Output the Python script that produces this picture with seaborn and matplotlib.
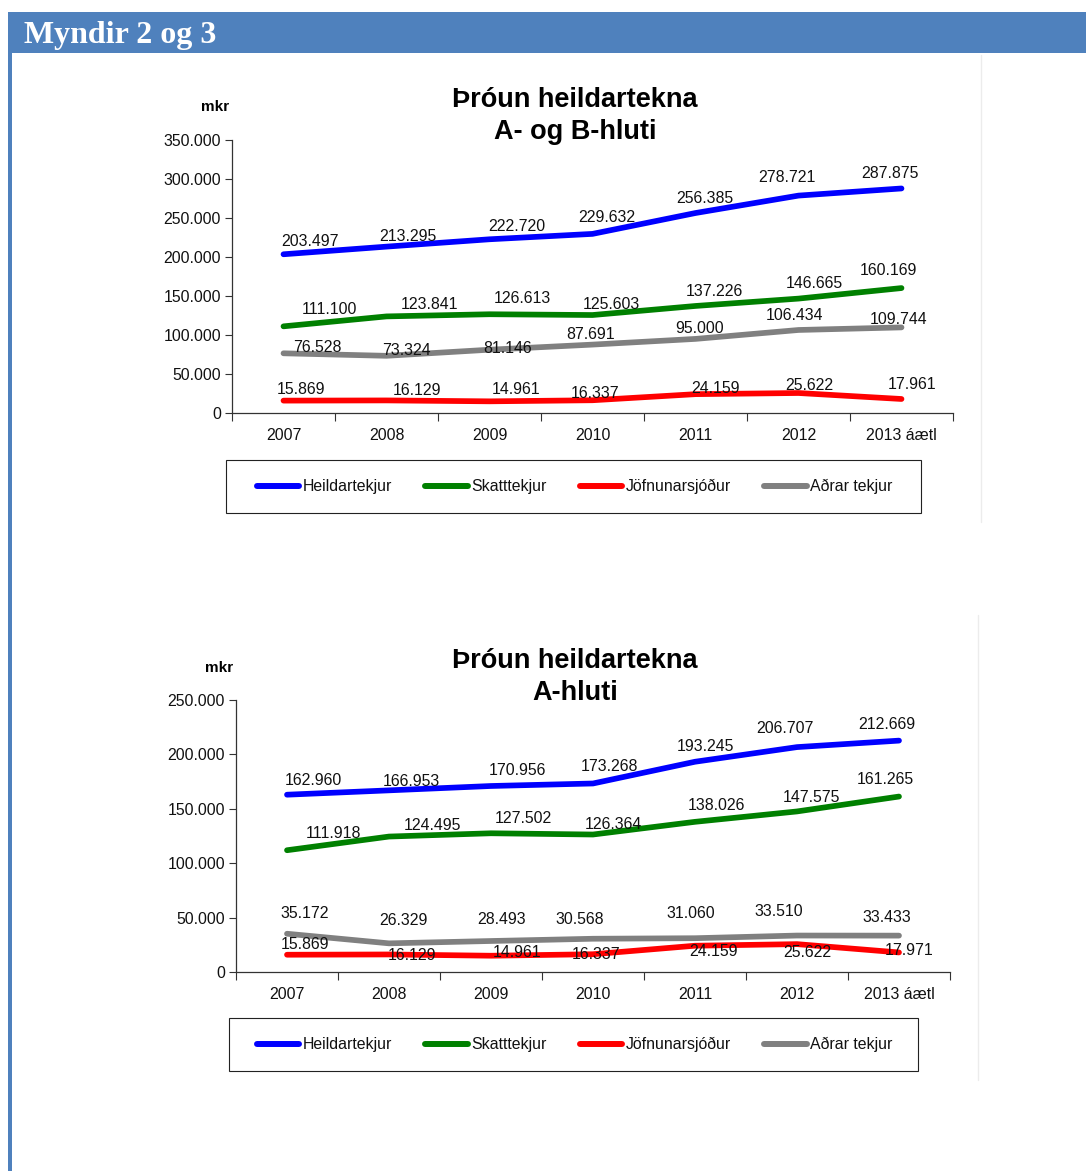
import pandas as pd
import matplotlib.pyplot as plt
import seaborn as sns
from matplotlib.patches import Rectangle
from matplotlib.lines import Line2D
from matplotlib.ticker import FuncFormatter, FixedLocator

# Categories (years)
years = ['2007', '2008', '2009', '2010', '2011', '2012', '2013 áætl']
series_names = ['Heildartekjur', 'Skatttekjur', 'Jöfnunarsjóður', 'Aðrar tekjur']
colors = ['#0000FF', '#008000', '#FF0000', '#808080']

# Mynd 2: A- og B-hluti (mkr)
ab_heildar = [203497, 213295, 222720, 229632, 256385, 278721, 287875]
ab_skatt = [111100, 123841, 126613, 125603, 137226, 146665, 160169]
ab_jofnun = [15869, 16129, 14961, 16337, 24159, 25622, 17961]
ab_adrar = [76528, 73324, 81146, 87691, 95000, 106434, 109744]

# Mynd 3: A-hluti (mkr)
a_heildar = [162960, 166953, 170956, 173268, 193245, 206707, 212669]
a_skatt = [111918, 124495, 127502, 126364, 138026, 147575, 161265]
a_jofnun = [15869, 16129, 14961, 16337, 24159, 25622, 17971]
a_adrar = [35172, 26329, 28493, 30568, 31060, 33510, 33433]

# label offsets in pixels (dx right, dy up) - labels were hand placed in the original
ab_offsets = {
    'Heildartekjur': [(26, 13), (21, 10), (27, 13), (14, 16), (9, 15), (-12, 18), (-12, 15)],
    'Skatttekjur': [(46, 17), (43, 12), (33, 16), (19, 11), (19, 14), (16, 15), (-13, 18)],
    'Jöfnunarsjóður': [(18, 11), (31, 10), (27, 12), (3, 7), (20, 6), (11, 8), (11, 14)],
    'Aðrar tekjur': [(34, 6), (20, 5), (18, 1), (-2, 10), (4, 10), (-4, 14), (-3, 8)],
}
a_offsets = {
    'Heildartekjur': [(26, 14), (22, 9), (26, 15), (16, 17), (10, 15), (-12, 19), (-12, 16)],
    'Skatttekjur': [(46, 17), (43, 11), (32, 15), (20, 10), (21, 16), (14, 14), (-14, 17)],
    'Jöfnunarsjóður': [(18, 10), (23, -1), (26, 3), (3, 0), (19, -6), (10, -8), (10, 2)],
    'Aðrar tekjur': [(18, 20), (14, 23), (11, 21), (-13, 19), (-4, 25), (-18, 24), (-12, 18)],
}

W, H = 1086, 1171
FONT = ['Liberation Sans', 'DejaVu Sans']

sns.set_theme(style='white')
plt.rcParams['font.family'] = FONT


def thousands(v, pos=None):
    return f'{int(round(v)):,}'.replace(',', '.')


def fx(px):
    return px / W


def fy(py):
    return 1 - py / H


def draw_chart(fig, rect, values, offsets, ymax, ystep, title2, mkr_xy, title_y, legend_box):
    ax = fig.add_axes(rect)
    rows = []
    for name, vals in zip(series_names, values):
        for i, v in enumerate(vals):
            rows.append({'pos': i, 'value': v, 'series': name})
    df = pd.DataFrame(rows)
    sns.lineplot(data=df, x='pos', y='value', hue='series', hue_order=series_names,
                 palette=colors, linewidth=4.1, legend=False, sort=False, ax=ax,
                 solid_capstyle='round', solid_joinstyle='round')

    # data labels
    for name, vals in zip(series_names, values):
        for i, v in enumerate(vals):
            dx, dy = offsets[name][i]
            ax.annotate(thousands(v), xy=(i, v), xytext=(dx, dy),
                        textcoords='offset pixels', ha='center', va='center',
                        fontsize=11.4, color='#111111')

    ax.set_xlim(-0.5, 6.5)
    ax.set_ylim(0, ymax)
    ax.yaxis.set_major_locator(FixedLocator(list(range(0, ymax + 1, ystep))))
    ax.yaxis.set_major_formatter(FuncFormatter(thousands))
    ax.set_xticks([i + 0.5 for i in range(-1, 7)])
    ax.set_xticklabels([])
    ax.set_xticks(range(7), minor=True)
    ax.set_xticklabels(years, minor=True)
    ax.tick_params(axis='x', which='major', direction='out', length=6, width=0.8,
                   color='#333333', bottom=True)
    ax.tick_params(axis='x', which='minor', length=0, pad=11, labelsize=11.4,
                   labelcolor='#111111')
    ax.tick_params(axis='y', direction='out', length=5, width=0.8, color='#333333',
                   left=True, labelsize=11.4, labelcolor='#111111', pad=3)
    ax.set_xlabel('')
    ax.set_ylabel('')
    for s in ['top', 'right']:
        ax.spines[s].set_visible(False)
    for s in ['left', 'bottom']:
        ax.spines[s].set_color('#333333')
        ax.spines[s].set_linewidth(0.9)
    ax.grid(False)
    ax.set_facecolor('none')

    # title and unit
    fig.text(fx(575), fy(title_y), 'Þróun heildartekna', ha='center', va='center',
             fontsize=19.5, fontweight='bold', color='black')
    fig.text(fx(575), fy(title_y + 32), title2, ha='center', va='center',
             fontsize=19.5, fontweight='bold', color='black')
    fig.text(fx(mkr_xy[0]), fy(mkr_xy[1]), 'mkr', ha='center', va='center',
             fontsize=11, fontweight='bold', color='black')

    # legend box
    x0, y0, x1, y1 = legend_box
    fig.add_artist(Rectangle((fx(x0), fy(y1)), fx(x1 - x0), (y1 - y0) / H,
                             transform=fig.transFigure, fill=False,
                             edgecolor='#222222', linewidth=0.8))
    handles = [Line2D([0], [0], color=c, lw=4.3, solid_capstyle='round') for c in colors]
    fig.legend(handles, series_names, loc='center',
               bbox_to_anchor=(fx((x0 + x1) / 2 + 1), fy((y0 + y1) / 2)),
               ncol=4, frameon=False, fontsize=11.4, handlelength=2.7,
               handletextpad=0.2, columnspacing=2.1, labelcolor='#111111')
    return ax


fig = plt.figure(figsize=(W / 100, H / 100), dpi=100)
fig.patch.set_facecolor('white')

# header bar and left rule
fig.add_artist(Rectangle((fx(8), fy(53)), 1 - fx(8), 41 / H, transform=fig.transFigure,
                         facecolor='#4F81BD', edgecolor='none'))
fig.add_artist(Rectangle((fx(8), 0), fx(3.5), fy(12), transform=fig.transFigure,
                         facecolor='#4F81BD', edgecolor='none'))
fig.text(fx(24), fy(35), 'Myndir 2 og 3', ha='left', va='center', fontsize=23,
         fontweight='bold', color='white', family=['Liberation Serif', 'DejaVu Serif'])

# faint chart-area edges
fig.add_artist(Line2D([fx(981), fx(981)], [fy(55), fy(522)], transform=fig.transFigure,
                      color='#ececec', lw=1))
fig.add_artist(Line2D([fx(978), fx(978)], [fy(615), fy(1080)], transform=fig.transFigure,
                      color='#ececec', lw=1))

draw_chart(fig, [fx(232), fy(413), fx(953 - 232), (413 - 140) / H],
           [ab_heildar, ab_skatt, ab_jofnun, ab_adrar], ab_offsets,
           350000, 50000, 'A- og B-hluti', (215, 107), 100, (226, 460, 921, 513))

draw_chart(fig, [fx(236), fy(972), fx(950 - 236), (972 - 700) / H],
           [a_heildar, a_skatt, a_jofnun, a_adrar], a_offsets,
           250000, 50000, 'A-hluti', (219, 668), 661, (229, 1018, 918, 1071))

fig.savefig('out.png', dpi=100, facecolor='white')
plt.close(fig)
